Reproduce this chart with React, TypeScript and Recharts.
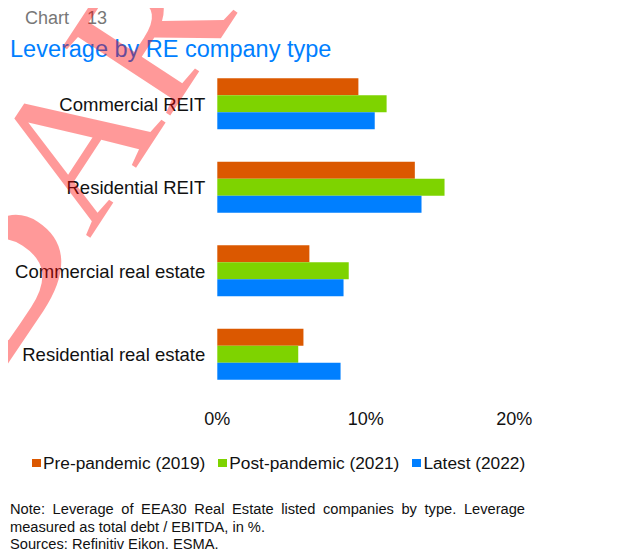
import React from 'react';
import { BarChart, Bar, XAxis, YAxis, Legend } from 'recharts';

// Données (levier en %)
const categories = ['Commercial REIT', 'Residential REIT', 'Commercial real estate', 'Residential real estate'];
const prePandemic = [9.5, 13.3, 6.2, 5.8];
const postPandemic = [11.4, 15.3, 8.85, 5.45];
const latest = [10.6, 13.75, 8.5, 8.3];
const xTicks = [0, 10, 20];

const seriesKeys = ['pre', 'post', 'latest'];
const seriesNames = ['Pre-pandemic (2019)', 'Post-pandemic (2021)', 'Latest (2022)'];
const colors = ['#DB5800', '#7ED300', '#007FFF'];

const FONT = "'Liberation Sans', Arial, sans-serif";

const data = categories.map((name, i) => ({
  name,
  pre: prePandemic[i],
  post: postPandemic[i],
  latest: latest[i],
}));

// Légende personnalisée : petits carrés + libellés, dans l'ordre des séries
const renderLegend = () => (
  <div style={{ display: 'flex', alignItems: 'center', paddingLeft: 32, height: 22, fontFamily: FONT }}>
    {seriesNames.map((label, i) => (
      <div key={label} style={{ display: 'flex', alignItems: 'center', marginRight: 13 }}>
        <span style={{ display: 'inline-block', width: 9, height: 8.5, background: colors[i], marginRight: 2, marginTop: -1 }} />
        <span style={{ fontSize: 17.3, lineHeight: '22px', color: '#111' }}>{label}</span>
      </div>
    ))}
  </div>
);

const App: React.FC = () => {
  return (
    <div style={{ position: 'relative', width: 619, height: 557, margin: -8, overflow: 'hidden', background: '#fff', fontFamily: FONT }}>
      <div style={{ position: 'absolute', left: 10, top: 0, width: 609, height: 2, background: '#aaaaaa' }} />
      <div style={{ position: 'absolute', left: 25, top: 8.8, fontSize: 18, lineHeight: '18px', color: '#777', whiteSpace: 'nowrap' }}>Chart</div>
      <div style={{ position: 'absolute', left: 87, top: 8.8, fontSize: 18, lineHeight: '18px', color: '#777', whiteSpace: 'nowrap' }}>13</div>
      <div style={{ position: 'absolute', left: 10, top: 36.5, fontSize: 23.5, lineHeight: '24px', color: '#007FFF', whiteSpace: 'nowrap' }}>
        Leverage by RE company type
      </div>

      <div style={{ position: 'absolute', left: 0, top: 0 }}>
        <BarChart
          width={619}
          height={557}
          data={data}
          layout="vertical"
          margin={{ top: 62.5, right: 30.4, left: 0, bottom: 130.5 }}
          barGap={0}
          barCategoryGap={15.75}
        >
          <XAxis
            type="number"
            domain={[0, 25]}
            ticks={xTicks}
            tickFormatter={(v) => `${v}%`}
            axisLine={false}
            tickLine={false}
            tickSize={0}
            tickMargin={16}
            height={30}
            tick={{ fontSize: 18, fill: '#111', fontFamily: FONT }}
          />
          <YAxis
            type="category"
            dataKey="name"
            width={217.3}
            axisLine={false}
            tickLine={false}
            tickSize={0}
            tickMargin={12}
            tick={{ fontSize: 18.5, fill: '#111', fontFamily: FONT }}
          />
          <Legend
            layout="horizontal"
            verticalAlign="middle"
            align="center"
            content={renderLegend}
            wrapperStyle={{ top: 452.3, left: 0, width: 619 }}
          />
          {seriesKeys.map((key, i) => (
            <Bar key={key} dataKey={key} name={seriesNames[i]} fill={colors[i]} isAnimationActive={false} />
          ))}
        </BarChart>
      </div>

      <div style={{ position: 'absolute', left: 10, top: 501.2, width: 515, fontSize: 14.67, lineHeight: '17.5px', color: '#111' }}>
        <div style={{ textAlign: 'justify', textAlignLast: 'justify', whiteSpace: 'nowrap' as any }}>
          Note: Leverage of EEA30 Real Estate listed companies by type. Leverage
        </div>
        <div style={{ whiteSpace: 'nowrap' }}>measured as total debt / EBITDA, in %.</div>
        <div style={{ whiteSpace: 'nowrap' }}>Sources: Refinitiv Eikon, ESMA.</div>
      </div>

      {/* filigrane */}
      <svg width={619} height={557} style={{ position: 'absolute', left: 0, top: 0, pointerEvents: 'none' }}>
        <text
          x={0}
          y={0}
          transform="translate(-242.9,746.9) rotate(-56.8)"
          fontFamily="'Liberation Serif', 'Times New Roman', serif"
          fill="rgba(255,0,0,0.4)"
        >
          <tspan fontSize={280}>EMB</tspan>
          <tspan fontSize={195}>ARGO</tspan>
        </text>
      </svg>
    </div>
  );
};

export default App;
